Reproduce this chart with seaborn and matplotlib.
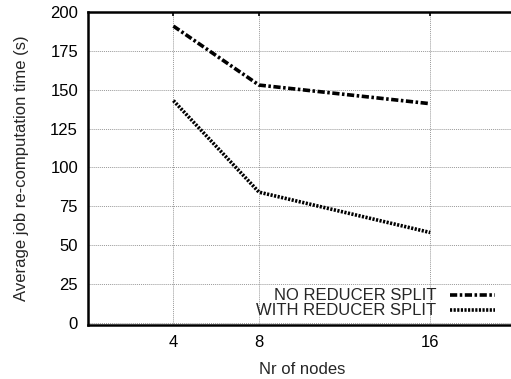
import matplotlib.pyplot as plt
import pandas as pd
import seaborn as sns

NODES = [4, 8, 16]
NO_SPLIT = [191, 153, 141]
WITH_SPLIT = [143, 84, 58]
LABEL_NO = "NO REDUCER SPLIT"
LABEL_WITH = "WITH REDUCER SPLIT"
Y_TICKS = [0, 25, 50, 75, 100, 125, 150, 175, 200]

df = pd.concat([
    pd.DataFrame({"nodes": NODES, "time": NO_SPLIT, "series": LABEL_NO}),
    pd.DataFrame({"nodes": NODES, "time": WITH_SPLIT, "series": LABEL_WITH}),
])

sns.set_style("white")
plt.rcParams["font.family"] = ["Liberation Sans", "DejaVu Sans"]
FS = 12

fig = plt.figure(figsize=(5.11, 3.79), dpi=100)
ax = fig.add_axes([0.1718, 0.1425, 0.8376, 0.8255])

sns.lineplot(data=df, x="nodes", y="time", hue="series", style="series",
             palette={LABEL_NO: "black", LABEL_WITH: "black"},
             dashes={LABEL_NO: (2, 0.7, 0.7, 0.7), LABEL_WITH: (0.6, 0.4)},
             linewidth=2.6, ax=ax)

ax.set_xlim(0, 20)
ax.set_ylim(-1.6, 200)
ax.set_xticks(NODES)
ax.set_yticks(Y_TICKS)
ax.grid(True, color="#999999", linestyle=(0, (1, 1)), linewidth=0.7)
ax.tick_params(direction="in", top=True, right=True, length=3, width=1.2,
               colors="black", labelsize=FS, pad=7)
for s in ["left", "bottom", "top", "right"]:
    ax.spines[s].set_color("black")
    ax.spines[s].set_linewidth(1.8)

ax.set_xlabel("Nr of nodes", fontsize=FS, labelpad=9)
ax.set_ylabel("Average job re-computation time (s)", fontsize=FS, labelpad=15)

ax.legend(loc="lower right", bbox_to_anchor=(0.986, -0.027), frameon=False,
          markerfirst=False, handlelength=2.7, handletextpad=0.8,
          labelspacing=0.0, fontsize=FS, title=None)

fig.savefig("out.png", dpi=100)
plt.close(fig)
